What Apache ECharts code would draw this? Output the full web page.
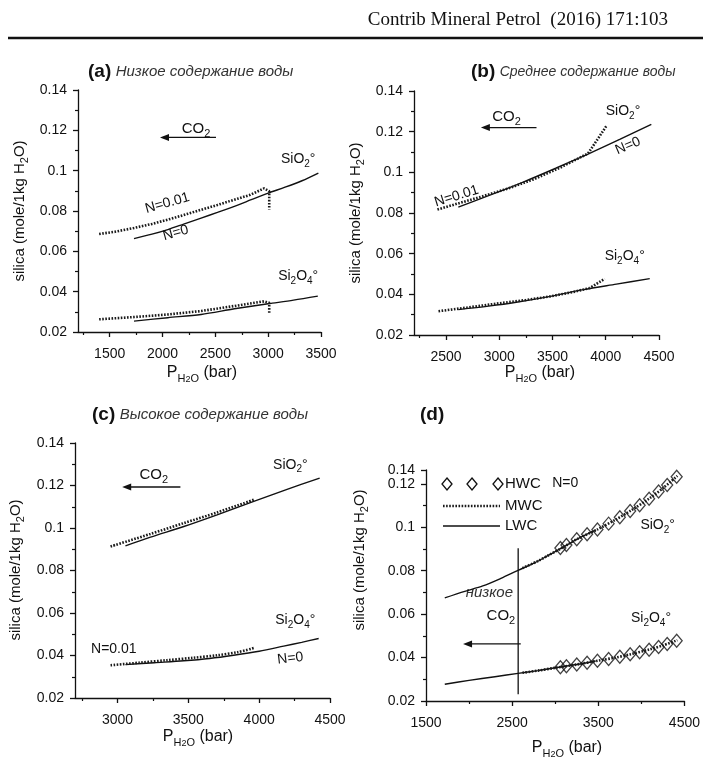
<!DOCTYPE html>
<html><head><meta charset="utf-8">
<script src="https://cdn.jsdelivr.net/npm/echarts@6/dist/echarts.min.js"></script>
<style>html,body{margin:0;padding:0;background:#fff;}#c{width:703px;height:757px;}</style>
</head><body><div id="c"></div>
<script>
// ---------------- data ----------------
// Panel (a) low water content
const a_SiO2_N001 = [[1400,0.0686],[1550,0.0697],[1730,0.0716],[1900,0.0736],[2050,0.0757],[2200,0.0780],[2365,0.0806],[2520,0.0830],[2680,0.0856],[2830,0.0880],[2960,0.0912],[3010,0.0898],[3010,0.0808]];
const a_SiO2_N0 = [[1730,0.0663],[1900,0.0685],[2050,0.0708],[2200,0.0735],[2365,0.0765],[2520,0.0793],[2680,0.0823],[2840,0.0856],[3000,0.0889],[3160,0.0918],[3320,0.0950],[3475,0.0988]];
const a_Si2O4_N001 = [[1400,0.0263],[1730,0.0274],[2050,0.0287],[2365,0.0304],[2680,0.0329],[2960,0.0352],[3010,0.0345],[3010,0.0292]];
const a_Si2O4_N0 = [[1730,0.0254],[2050,0.0271],[2365,0.0287],[2680,0.0315],[3000,0.0340],[3240,0.0358],[3470,0.0378]];
// Panel (b) medium water content
const b_SiO2_N001 = [[2420,0.0817],[2600,0.0845],[2850,0.0883],[3080,0.0920],[3320,0.0965],[3580,0.1025],[3834,0.1093],[3920,0.1160],[4006,0.1228]];
const b_SiO2_N0 = [[2616,0.0829],[2900,0.0885],[3225,0.0952],[3530,0.1020],[3834,0.1090],[4131,0.1162],[4428,0.1236]];
const b_Si2O4_N001 = [[2430,0.0317],[2700,0.0335],[3000,0.0356],[3250,0.0372],[3480,0.0390],[3700,0.0412],[3850,0.0431],[3990,0.0476]];
const b_Si2O4_N0 = [[2616,0.0325],[2900,0.0342],[3160,0.0361],[3480,0.0390],[3790,0.0423],[4100,0.0450],[4413,0.0477]];
// Panel (c) high water content
const c_SiO2_N001 = [[2951,0.0913],[3233,0.0972],[3468,0.1023],[3703,0.1073],[3962,0.1133]];
const c_SiO2_N0 = [[3056,0.0916],[3233,0.0957],[3468,0.1007],[3703,0.1062],[3962,0.1125],[4197,0.1182],[4427,0.1235]];
const c_Si2O4_N001 = [[2951,0.0354],[3150,0.0366],[3350,0.0378],[3530,0.0389],[3703,0.0401],[3850,0.0416],[3962,0.0435]];
const c_Si2O4_N0 = [[3056,0.0357],[3260,0.0366],[3468,0.0375],[3650,0.0386],[3820,0.0401],[4000,0.0420],[4173,0.0444],[4300,0.0462],[4420,0.0480]];
// Panel (d) N=0 comparison
const d_LWC_SiO2 = [[1718,0.0675],[1950,0.0705],[2159,0.0730],[2370,0.0765],[2569,0.0802],[2760,0.0836],[2925,0.0872],[3078,0.0905],[3250,0.0945],[3475,0.0988]];
const d_MWC_SiO2 = [[2620,0.0812],[2800,0.0845],[2925,0.0872],[3078,0.0905],[3250,0.0945],[3499,0.0992],[3700,0.1035],[3882,0.1078],[4100,0.1135],[4250,0.1180],[4418,0.1237]];
const d_HWC_x = [3060,3130,3250,3370,3490,3620,3750,3870,3980,4090,4200,4300,4410];
const d_HWC_SiO2 = [0.0905,0.0918,0.0945,0.0968,0.0990,0.1017,0.1046,0.1075,0.1102,0.1132,0.1165,0.1195,0.1233];
const d_LWC_Si2O4 = [[1718,0.0277],[2000,0.0295],[2300,0.0312],[2569,0.0327],[2800,0.0340],[3001,0.0353],[3250,0.0368],[3470,0.0384]];
const d_MWC_Si2O4 = [[2620,0.0330],[2800,0.0340],[3001,0.0353],[3250,0.0368],[3499,0.0386],[3700,0.0400],[3882,0.0416],[4100,0.0438],[4250,0.0456],[4418,0.0480]];
const d_HWC_Si2O4 = [0.0356,0.0360,0.0368,0.0376,0.0385,0.0394,0.0404,0.0415,0.0425,0.0436,0.0449,0.0463,0.0478];
const d_boundary = [[2570,0.0231],[2570,0.0904]];

// axes / ticks
const yMajor = [0.02,0.04,0.06,0.08,0.10,0.12,0.14];
const yMinor = [0.03,0.05,0.07,0.09,0.11,0.13];
const yLabels = ['0.02','0.04','0.06','0.08','0.1','0.12','0.14'];
const dYTop = 0.1264; // top of panel (d) axis is compressed in the scan; its tick reads "0.14"
const dYMajor = [0.02,0.04,0.06,0.08,0.10,0.12];
const dYMinor = [0.03,0.05,0.07,0.09,0.11];
const xRanges = [[1200,3500],[2200,4500],[2700,4500],[1500,4500]];
const xMajor = [[1500,2000,2500,3000,3500],[2500,3000,3500,4000,4500],[3000,3500,4000,4500],[1500,2500,3500,4500]];
const xMinor = [[1250,1750,2250,2750,3250],[2250,2750,3250,3750,4250],[2750,3250,3750,4250],[2000,3000,4000]];

// annotation anchors (data units)
const co2Arrows = [[2506,1976,0.1165],[3350,2828,0.1220],[3444,3033,0.1193],[2600,1930,0.0463]];
const co2Text = [[2317,0.1208],[3069,0.1274],[3256,0.1250],[2369,0.0590]];

// ---------------- layout ----------------
const FONT = "'Liberation Sans', Arial, Helvetica, sans-serif";
const grids = [
  {left:78, top:90, width:243, height:242},
  {left:414, top:91, width:245, height:244},
  {left:75, top:443, width:255, height:255},
  {left:426, top:470, width:261, height:231}
];
const INK = '#111';
const fmtY = v => { const k = yMajor.findIndex(t=>Math.abs(t-v)<1e-6); return k<0 ? '' : yLabels[k]; };
const xAxes = [], yAxes = [];
grids.forEach((g,i)=>{
  xAxes.push({gridIndex:i, type:'value', min:xRanges[i][0], max:xRanges[i][1], position:'bottom',
    axisLine:{show:true,onZero:false,lineStyle:{color:INK,width:1.3}},
    axisTick:{show:true,customValues:xMajor[i],length:5,lineStyle:{color:INK,width:1.3}},
    axisLabel:{customValues:xMajor[i],formatter:v=>String(v),fontSize:14,color:INK,fontFamily:FONT,margin:15,
      showMinLabel:true,showMaxLabel:true,hideOverlap:false},
    splitLine:{show:false}});
  xAxes.push({gridIndex:i, type:'value', min:xRanges[i][0], max:xRanges[i][1], position:'bottom',
    axisLine:{show:false,onZero:false},
    axisTick:{show:true,customValues:xMinor[i],length:3,lineStyle:{color:INK,width:1.2}},
    axisLabel:{show:false}, splitLine:{show:false}});
  const maj = i===3 ? dYMajor : yMajor;
  const mnr = i===3 ? dYMinor : yMinor;
  const top = i===3 ? dYTop : 0.14;
  yAxes.push({gridIndex:i, type:'value', min:0.02, max:top, position:'left',
    axisLine:{show:true,onZero:false,lineStyle:{color:INK,width:1.3}},
    axisTick:{show:true,customValues:maj,length:5,lineStyle:{color:INK,width:1.3}},
    axisLabel:{customValues:maj,formatter:fmtY,
      fontSize:14,color:INK,fontFamily:FONT,margin:11,showMinLabel:true,showMaxLabel:true,hideOverlap:false},
    splitLine:{show:false}});
  yAxes.push({gridIndex:i, type:'value', min:0.02, max:top, position:'left',
    axisLine:{show:false,onZero:false},
    axisTick:{show:true,customValues:mnr,length:3,lineStyle:{color:INK,width:1.2}},
    axisLabel:{show:false}, splitLine:{show:false}});
});
// separate axis carrying the top tick of panel (d)
yAxes.push({gridIndex:3, type:'value', min:0.02, max:dYTop, position:'left',
  axisLine:{show:false,onZero:false},
  axisTick:{show:true,customValues:[dYTop],length:5,lineStyle:{color:INK,width:1.3}},
  axisLabel:{customValues:[dYTop],formatter:()=>yLabels[6],fontSize:14,color:INK,fontFamily:FONT,margin:11},
  splitLine:{show:false}});

const DOT = {color:'#1a1a1a', width:2.6, type:[1.6,1.5]};
const SOLID = {color:INK, width:1.4};
function ln(i, data, style, smooth){
  return {type:'line', xAxisIndex:2*i, yAxisIndex:2*i, data:data, symbol:'none', showSymbol:false,
    smooth: smooth?0.3:false, lineStyle:style, silent:true, animation:false};
}
const series = [
  ln(0,a_SiO2_N0,SOLID,true), ln(0,a_SiO2_N001,DOT,false), ln(0,a_Si2O4_N0,SOLID,true), ln(0,a_Si2O4_N001,DOT,false),
  ln(1,b_SiO2_N0,SOLID,true), ln(1,b_SiO2_N001,DOT,false), ln(1,b_Si2O4_N0,SOLID,true), ln(1,b_Si2O4_N001,DOT,false),
  ln(2,c_SiO2_N0,SOLID,true), ln(2,c_SiO2_N001,DOT,true), ln(2,c_Si2O4_N0,SOLID,true), ln(2,c_Si2O4_N001,DOT,true),
  ln(3,d_LWC_SiO2,SOLID,true), ln(3,d_MWC_SiO2,DOT,true), ln(3,d_LWC_Si2O4,SOLID,true), ln(3,d_MWC_Si2O4,DOT,true),
  ln(3,d_boundary,{color:INK,width:1.3},false),
  {type:'scatter', xAxisIndex:6, yAxisIndex:6, data:d_HWC_x.map((x,k)=>[x,d_HWC_SiO2[k]]), symbol:'diamond', symbolSize:[11,13],
    itemStyle:{color:'rgba(0,0,0,0)',borderColor:INK,borderWidth:1.3}, silent:true, animation:false},
  {type:'scatter', xAxisIndex:6, yAxisIndex:6, data:d_HWC_x.map((x,k)=>[x,d_HWC_Si2O4[k]]), symbol:'diamond', symbolSize:[11,13],
    itemStyle:{color:'rgba(0,0,0,0)',borderColor:INK,borderWidth:1.3}, silent:true, animation:false}
];

const chart = echarts.init(document.getElementById('c'), null, {renderer:'canvas'});
chart.setOption({animation:false, backgroundColor:'#fff', grid:grids, xAxis:xAxes, yAxis:yAxes, series:series});

// ---------------- text & annotations ----------------
function R(fs, ifs){
  const s = Math.round(fs*0.7), ss = Math.round(fs*0.55);
  return {
    n:{fontSize:fs,fontFamily:FONT,lineHeight:fs+6,fill:INK,color:INK},
    s:{fontSize:s,fontFamily:FONT,lineHeight:s+1,verticalAlign:'bottom',fill:INK,color:INK},
    ss:{fontSize:ss,fontFamily:FONT,lineHeight:ss-1,verticalAlign:'bottom',fill:INK,color:INK},
    b:{fontSize:19,fontFamily:FONT,fontWeight:'bold',lineHeight:24,fill:INK,color:INK},
    i:{fontSize:ifs||15,fontFamily:FONT,fontStyle:'italic',lineHeight:24,fill:'#333',color:'#333'}
  };
}
function T(x,y,text,fs,opt){
  opt = opt||{};
  return {type:'text', x:x, y:y, rotation:opt.rot||0, silent:true,
    style:{text:text, rich:R(fs,opt.ifs), font:fs+'px '+FONT, fill:INK,
      align:opt.align||'center', textAlign:opt.align||'center', verticalAlign:'middle', textVerticalAlign:'middle'}};
}
function P(i,x,y){ return chart.convertToPixel({xAxisIndex:2*i, yAxisIndex:2*i},[x,y]); }
const SIO2 = '{n|SiO}{s|2}{n|°}';
const SI2O4 = '{n|Si}{s|2}{n|O}{s|4}{n|°}';
const CO2 = '{n|CO}{s|2}';
const YT = '{n|silica (mole/1kg H}{s|2}{n|O)}';
const XT = '{n|P}{s|H}{ss|2}{s|O}{n| (bar)}';
const g = [];
// header
g.push({type:'text', x:668, y:20, silent:true, style:{text:'Contrib Mineral Petrol  (2016) 171:103', font:"19px 'Liberation Serif', 'Times New Roman', serif", fill:'#111', align:'right', textAlign:'right', verticalAlign:'middle', textVerticalAlign:'middle'}});
g.push({type:'line', silent:true, shape:{x1:8,y1:38,x2:703,y2:38}, style:{stroke:'#111', lineWidth:2.5}});
// panel titles
g.push(T(88,72,'{b|(a)} {i|Низкое содержание воды}',16,{align:'left'}));
g.push(T(471,72,'{b|(b)} {i|Среднее содержание воды}',16,{align:'left',ifs:14}));
g.push(T(92,415,'{b|(c)} {i|Высокое содержание воды}',16,{align:'left'}));
g.push(T(420,415,'{b|(d)}',16,{align:'left'}));
// axis titles
[[20,211],[356,213],[16,570],[360,560]].forEach(p=>g.push(T(p[0],p[1],YT,15,{rot:Math.PI/2})));
[[202,373],[540,373],[198,737],[567,748]].forEach(p=>g.push(T(p[0],p[1],XT,16)));
// CO2 arrows
co2Arrows.forEach((a,i)=>{
  const p1 = P(i,a[0],a[2]), p2 = P(i,a[1],a[2]);
  g.push({type:'line', silent:true, shape:{x1:p1[0],y1:p1[1],x2:p2[0]+6,y2:p2[1]}, style:{stroke:INK,lineWidth:1.4}});
  g.push({type:'polygon', silent:true, shape:{points:[[p2[0],p2[1]],[p2[0]+9,p2[1]-3.5],[p2[0]+9,p2[1]+3.5]]}, style:{fill:INK}});
  const t = P(i,co2Text[i][0],co2Text[i][1]);
  g.push(T(t[0],t[1],CO2,15));
});
// species labels
const lab = [
  [0,3284,0.1059,SIO2],[0,3284,0.0477,SI2O4],
  [1,4162,0.1302,SIO2],[1,4178,0.0588,SI2O4],
  [2,4220,0.1298,SIO2],[2,4255,0.0567,SI2O4],
  [3,4189,0.1011,SIO2],[3,4112,0.0583,SI2O4]
];
lab.forEach(l=>{const p=P(l[0],l[1],l[2]); g.push(T(p[0],p[1],l[3],14));});
// N labels
const nl = [
  [0,2046,0.0839,'N=0.01',0.27],[0,2125,0.0691,'N=0',0.27],
  [1,2600,0.0883,'N=0.01',0.3],[1,4209,0.1130,'N=0',0.4],
  [2,2974,0.0428,'N=0.01',0],[2,4220,0.0386,'N=0',0.12],
  [3,3116,0.1203,'N=0',0]
];
nl.forEach(l=>{const p=P(l[0],l[1],l[2]); g.push(T(p[0],p[1],'{n|'+l[3]+'}',14,{rot:l[4]}));});
// (d) low CO2 note
{const p=P(3,2235,0.0698); g.push({type:'text',x:p[0],y:p[1],silent:true,style:{text:'низкое',font:"italic 15px "+FONT,fill:'#333',align:'center',textAlign:'center',verticalAlign:'middle',textVerticalAlign:'middle'}});}
// (d) legend
[447,472,498].forEach(x=>g.push({type:'polygon',silent:true,shape:{points:[[x,478],[x+5,484],[x,490],[x-5,484]]},style:{fill:'none',stroke:INK,lineWidth:1.3}}));
g.push({type:'line',silent:true,shape:{x1:443,y1:506,x2:500,y2:506},style:{stroke:'#1a1a1a',lineWidth:2.6,lineDash:[1.6,1.5]}});
g.push({type:'line',silent:true,shape:{x1:443,y1:526,x2:500,y2:526},style:{stroke:INK,lineWidth:1.3}});
g.push(T(505,484,'{n|HWC}',15,{align:'left'}));
g.push(T(505,506,'{n|MWC}',15,{align:'left'}));
g.push(T(505,526,'{n|LWC}',15,{align:'left'}));
chart.setOption({graphic:{elements:g}});
</script></body></html>
